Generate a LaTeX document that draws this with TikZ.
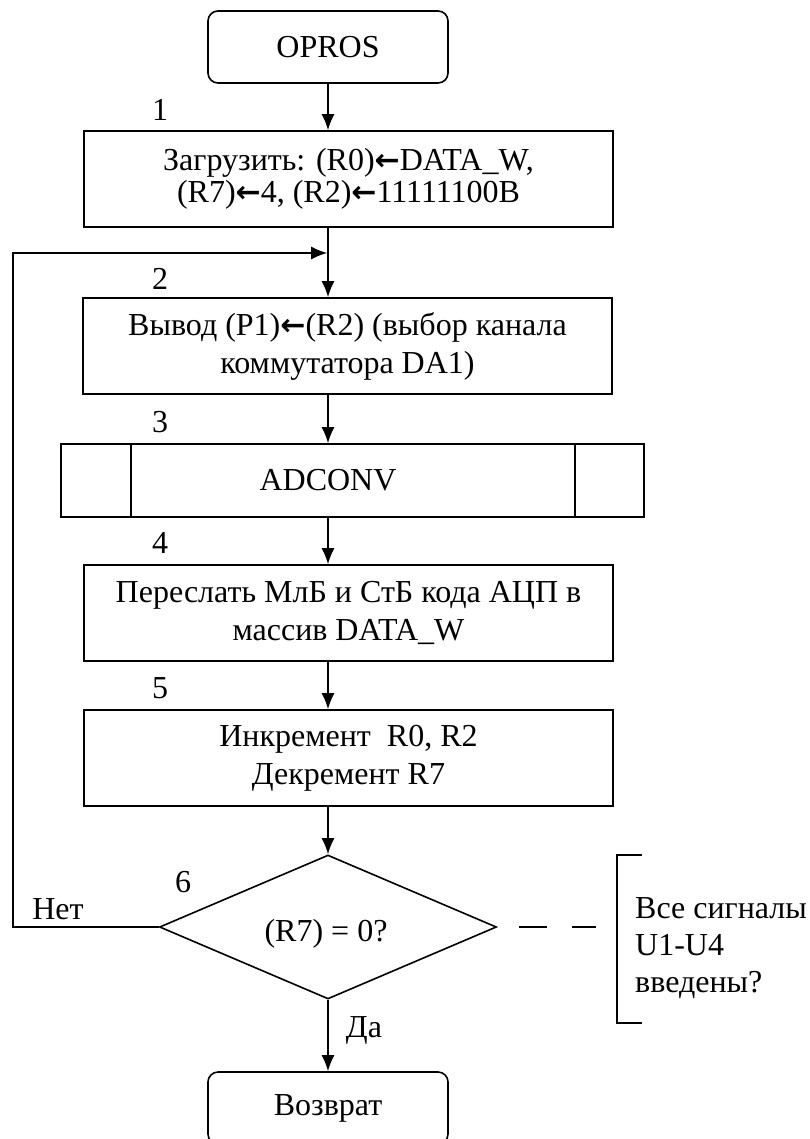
\documentclass[tikz,border=0pt]{standalone}
\usepackage{fontspec}
\setmainfont{Liberation Serif}
\newfontfamily\arrowfont{DejaVu Sans}
\usetikzlibrary{shapes.geometric,arrows.meta}
\newcommand{\larr}{{\arrowfont\bfseries\fontsize{30}{30}\selectfont ←}}
\begin{document}
\begin{tikzpicture}[x=1pt,y=-1pt,
  every node/.style={font=\fontsize{32}{38}\selectfont},
  lw/.style={line width=1.6pt},
  blk/.style={draw,lw,minimum width=529pt,minimum height=96pt,align=center,inner sep=0pt},
  term/.style={draw,lw,rounded corners=10pt,minimum width=240pt,minimum height=72pt,inner sep=0pt},
  flow/.style={lw,-{Latex[length=16pt,width=13pt]}},
  num/.style={inner sep=0pt}]
\useasboundingbox (0,0) rectangle (810,1139);
\clip (0,0) rectangle (810,1139);

% main axis of the flow
\coordinate (ax) at (328,0);

% blocks
\node[term] (opros) at (328,47) {OPROS};
\node[blk,font=\fontsize{32}{32}\selectfont] (b1) at (348.5,179)
  {\raisebox{-3pt}{Загрузить: (R0)\larr DATA\_W,}\\\raisebox{-3pt}{(R7)\larr 4, (R2)\larr 11111100B}};
\node[blk] (b2) at (347.5,346)
  {Вывод (P1)\larr(R2) (выбор канала\\коммутатора DA1)};
\node[draw,lw,minimum width=583pt,minimum height=73pt,inner sep=0pt] (b3) at (352.5,480.5) {};
\draw[lw] ([xshift=71pt]b3.north west) -- ([xshift=71pt]b3.south west);
\draw[lw] ([xshift=-70pt]b3.north east) -- ([xshift=-70pt]b3.south east);
\node (b3t) at (ax |- b3) {ADCONV};
\node[blk] (b4) at (348.5,613)
  {Переслать МлБ и СтБ кода АЦП в\\массив DATA\_W};
\node[blk] (b5) at (348.5,758)
  {Инкремент\ \ R0, R2\\Декремент R7};
\node[draw,lw,diamond,aspect=2.34,minimum width=337pt,minimum height=144pt,inner sep=0pt] (d) at (328,927) {};
\node (dt) at (326,934) {(R7) = 0?};
\node[term] (ret) at (328,1108) {Возврат};

% block numbers
\node[num] (n1) at (160,110) {1};
\node[num] (n2) at (160,279) {2};
\node[num] (n3) at (160,422) {3};
\node[num] (n4) at (160,543) {4};
\node[num] (n5) at (160,688) {5};
\node[num] (n6) at (183,882) {6};

% connectors
\draw[flow] (opros.south) -- (ax |- b1.north);
\coordinate (join) at (328,253);
\draw[flow] (ax |- b1.south) -- (ax |- b2.north);
\draw[flow] (ax |- b2.south) -- (ax |- b3.north);
\draw[flow] (ax |- b3.south) -- (ax |- b4.north);
\draw[flow] (ax |- b4.south) -- (ax |- b5.north);
\draw[flow] (ax |- b5.south) -- (d.north);
\draw[flow] (d.south) -- (ret.north);
\draw[flow] (d.west) -- (13,927) -- (13,253) -- ([xshift=-0.8pt]join);

\node[num] (no) at (58,909) {Нет};
\node[num] (yes) at (364,1030) {Да};

% comment bracket
\coordinate (c1) at (519,927);
\coordinate (c2) at (596,927);
\draw[lw,dash pattern=on 28pt off 25pt] (c1) -- (c2);
\draw[lw] (642,855) -- (617,855) -- (617,1023) -- (642,1023);
\node[num,anchor=west,align=left,font=\fontsize{32}{37}\selectfont] (note) at (635,948) {Все сигналы\\U1-U4\\введены?};
\end{tikzpicture}
\end{document}
